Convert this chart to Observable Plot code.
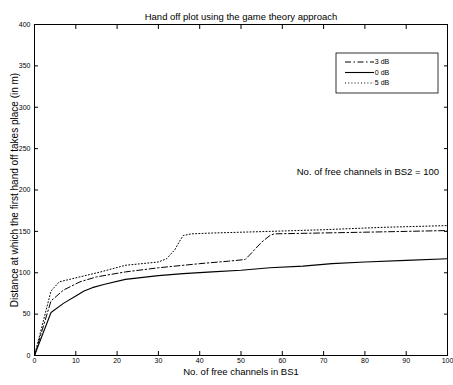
<!DOCTYPE html>
<html><head><meta charset="utf-8">
<script src="https://cdn.jsdelivr.net/npm/d3@7"></script>
<script src="https://cdn.jsdelivr.net/npm/@observablehq/plot@0.6"></script>
<style>body{margin:0;background:#fff}</style>
</head><body><div id="chart"></div>
<script>
// Data
const x3dB = [0, 4, 7, 11, 15, 22, 30, 40, 47, 51, 52, 55, 57, 58, 69, 80, 90, 100];
const y3dB = [0, 66, 79, 89, 95, 101, 106, 111, 114, 116, 121, 137, 145, 147, 148, 149, 150, 151];
const x0dB = [0, 4, 7, 10, 12, 14, 17, 22, 30, 36, 43, 50, 57, 65, 72, 80, 90, 100];
const y0dB = [0, 52, 63, 72, 78, 82, 86, 92, 96.5, 99, 101, 103, 106, 108, 111, 113, 115, 117];
const x5dB = [0, 4, 6, 11, 16, 22, 30, 32, 34, 35, 36, 38, 43, 50, 57, 70, 85, 100];
const y5dB = [0, 78, 89, 95, 101, 109, 113, 117, 128, 137, 145, 147, 148, 149, 150, 152, 155, 157];
const seriesNames = ["3 dB", "0 dB", "5 dB"];
const xTicks = [0, 10, 20, 30, 40, 50, 60, 70, 80, 90, 100];
const yTicks = [0, 50, 100, 150, 200, 250, 300, 350, 400];
const titleText = "Hand off plot using the game theory approach";
const xLabel = "No. of free channels in BS1";
const yLabel = "Distance at which the first hand off takes place (in m)";
const noteText = "No. of free channels in BS2 = 100";
const noteX = 63.5, noteY = 222;

const toRows = (xs, ys, name) => xs.map((x, i) => ({x, y: ys[i], name}));
const rows3 = toRows(x3dB, y3dB, seriesNames[0]);
const rows0 = toRows(x0dB, y0dB, seriesNames[1]);
const rows5 = toRows(x5dB, y5dB, seriesNames[2]);
const dashes = {"3 dB": "6,2.5,1.5,2.5", "0 dB": null, "5 dB": "1,2.2"};

const font = "'Liberation Sans', Arial, sans-serif";
const chart = Plot.plot({
  width: 453, height: 385,
  marginTop: 24, marginRight: 6, marginBottom: 30, marginLeft: 34,
  style: {fontFamily: font, fontSize: "7px", background: "white", color: "black"},
  x: {domain: [0, 100]},
  y: {domain: [0, 400]},
  marks: [
    Plot.axisX(xTicks, {anchor: "bottom", tickSize: -4, tickPadding: 7, label: null, fontSize: 7}),
    Plot.axisX(xTicks, {anchor: "top", tickSize: -4, tickFormat: () => "", label: null}),
    Plot.axisY(yTicks, {anchor: "left", tickSize: -4, tickPadding: 8, label: null, fontSize: 7}),
    Plot.axisY(yTicks, {anchor: "right", tickSize: -4, tickFormat: () => "", label: null}),
    Plot.frame({stroke: "black", strokeWidth: 1}),
    Plot.line(rows3, {x: "x", y: "y", stroke: "black", strokeWidth: 1, strokeDasharray: dashes["3 dB"]}),
    Plot.line(rows0, {x: "x", y: "y", stroke: "black", strokeWidth: 1.1}),
    Plot.line(rows5, {x: "x", y: "y", stroke: "black", strokeWidth: 1, strokeDasharray: dashes["5 dB"]}),
    Plot.text([noteText], {x: noteX, y: noteY, text: d => d, textAnchor: "start", fontSize: 9.5, fill: "black"}),
    Plot.text([titleText], {frameAnchor: "top", dy: -11, text: d => d, fontSize: 9.5, fill: "black"}),
    Plot.text([xLabel], {frameAnchor: "bottom", dy: 19, text: d => d, fontSize: 9.5, fill: "black"}),
    Plot.text([yLabel], {frameAnchor: "left", dx: -20, rotate: -90, textAnchor: "middle", text: d => d, fontSize: 10, fill: "black"})
  ]
});
document.getElementById("chart").appendChild(chart);

// Legend box (Matlab-style, top right inside axes)
const svg = d3.select(chart);
const lg = svg.append("g").attr("font-family", font).attr("font-size", 7);
lg.append("rect").attr("x", 336).attr("y", 53).attr("width", 102).attr("height", 40)
  .attr("fill", "white").attr("stroke", "black").attr("stroke-width", 0.8);
seriesNames.forEach((name, i) => {
  const yy = 62 + i * 10.5;
  lg.append("line").attr("x1", 345).attr("x2", 374).attr("y1", yy).attr("y2", yy)
    .attr("stroke", "black").attr("stroke-width", name === "0 dB" ? 1.1 : 1)
    .attr("stroke-dasharray", dashes[name]);
  lg.append("text").attr("x", 382).attr("y", yy).attr("dy", "0.32em").text(name);
});
</script></body></html>
